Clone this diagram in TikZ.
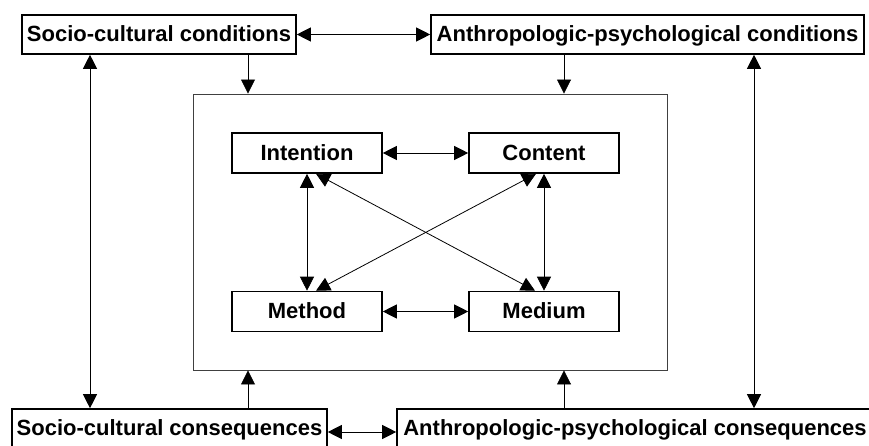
\documentclass[tikz,border=0pt]{standalone}
\usepackage{fontspec}
\setmainfont{Liberation Sans}
\usetikzlibrary{arrows.meta}
\begin{document}
\begin{tikzpicture}[x=1pt,y=-1pt,
  box/.style={draw, line width=1.6pt, inner sep=0pt,
    font=\bfseries\fontsize{22}{26}\selectfont,
    text height=16pt, text depth=1.6pt, minimum height=39pt},
  inbox/.style={box, minimum width=150pt, minimum height=40pt},
  tip/.tip={Triangle[length=14pt,width=14pt]},
  link/.style={line width=0.8pt, -tip},
  both/.style={line width=0.8pt, tip-tip},
  outline/.style={draw=black!75, line width=0.9pt, inner sep=0pt}]
\useasboundingbox (0,0) rectangle (869,446);

% surrounding frame of the inner system
\node[outline, minimum width=474pt, minimum height=276pt] (fr) at (430,232) {};

% outer condition and consequence boxes
\node[box, minimum width=274pt] (sc) at (159,34.5) {Socio-cultural conditions};
\node[box, minimum width=433pt] (ac) at (647.5,34.5) {Anthropologic-psychological conditions};
\node[box, minimum width=315pt] (scq) at (169.5,428.5) {Socio-cultural consequences};
\node[box, minimum width=476pt] (acq) at (635,428.5) {Anthropologic-psychological consequences};

% the four inner factors
\node[inbox] (int) at (307,153) {Intention};
\node[inbox] (con) at (544,153) {Content};
\node[inbox] (met) at (307,311.5) {Method};
\node[inbox] (med) at (544,311.5) {Medium};

% guide coordinates for vertical and horizontal connectors
\coordinate (xl) at (248,0);
\coordinate (xr) at (564,0);
\coordinate (xo) at (90,0);
\coordinate (xe) at (754,0);
\coordinate (yb) at (0,432);

% outer connectors
\draw[both] (sc) -- (ac);
\draw[both] (scq.east |- yb) -- (acq.west |- yb);
\draw[link] (sc.south -| xl) -- (fr.north -| xl);
\draw[link] (ac.south -| xr) -- (fr.north -| xr);
\draw[link] (scq.north -| xl) -- (fr.south -| xl);
\draw[link] (acq.north -| xr) -- (fr.south -| xr);
\draw[both] (sc.south -| xo) -- (scq.north -| xo);
\draw[both] (ac.south -| xe) -- (acq.north -| xe);

% inner connectors
\draw[both] (int) -- (con);
\draw[both] (met) -- (med);
\draw[both] (int) -- (met);
\draw[both] (con) -- (med);
\draw[both] ([xshift=9pt]int.south) -- ([xshift=-9pt]med.north);
\draw[both] ([xshift=-8pt]con.south) -- ([xshift=9pt]met.north);
\end{tikzpicture}
\end{document}
